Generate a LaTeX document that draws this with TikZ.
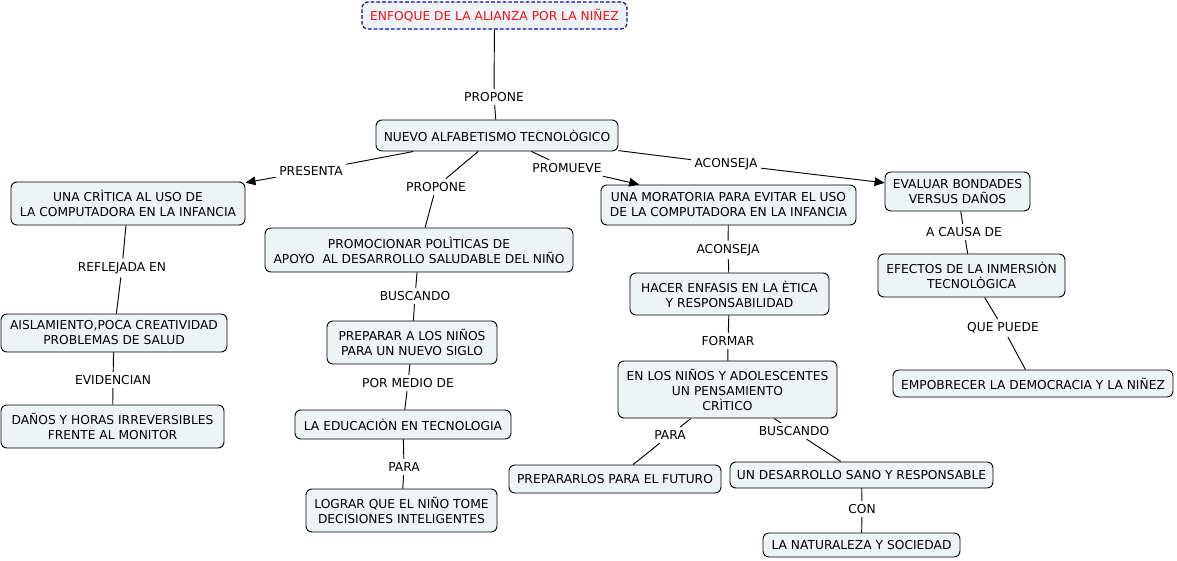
\documentclass[tikz,border=0pt]{standalone}
\usepackage{fontspec}
\setmainfont{DejaVu Sans}
\usetikzlibrary{arrows.meta}
\definecolor{boxfill}{HTML}{EEF3F6}
\definecolor{titlered}{HTML}{F0101A}
\definecolor{titleblue}{HTML}{0A0AB4}
\begin{document}
\begin{tikzpicture}[x=0.75pt,y=-0.75pt,
  every node/.style={font=\fontsize{9.2}{11.25}\selectfont, align=center, inner sep=0pt},
  box/.style={draw=black, line width=0.7pt, fill=boxfill, rounded corners=4.5pt},
  bx/.style 2 args={minimum width=#1*0.75pt, minimum height=#2*0.75pt},
  lbl/.style={inner sep=2.5pt},
  con/.style={draw=black, line width=0.7pt},
  arr/.style={con, -{Triangle[length=7.5pt,width=6.5pt]}}
]
\useasboundingbox (0,0) rectangle (1177,560);
\fill[white] (0,0) rectangle (1177,560);

% concept nodes
\node[box, draw=titleblue, line width=0.9pt, dash pattern=on 2.8pt off 1.5pt, text=titlered, bx={265}{27}] (title) at (494.5,15.5) {ENFOQUE DE LA ALIANZA POR LA NIÑEZ};
\node[box, bx={242}{31}] (n1) at (497,135.5) {NUEVO ALFABETISMO TECNOLÒGICO};
\node[box, bx={234}{43}] (critica) at (128,203.5) {UNA CRÌTICA AL USO DE\\LA COMPUTADORA EN LA INFANCIA};
\node[box, bx={308}{44}] (promo) at (419,250) {PROMOCIONAR POLÌTICAS DE\\APOYO\ \ AL DESARROLLO SALUDABLE DEL NIÑO};
\node[box, bx={255}{40}] (mora) at (728.5,205) {UNA MORATORIA PARA EVITAR EL USO\\DE LA COMPUTADORA EN LA INFANCIA};
\node[box, bx={145}{39}] (eval) at (957.5,191.5) {EVALUAR BONDADES\\VERSUS DAÑOS};
\node[box, bx={226}{38}] (aisl) at (114,333) {AISLAMIENTO,POCA CREATIVIDAD\\PROBLEMAS DE SALUD};
\node[box, bx={223}{43}] (danos) at (112.5,426.5) {DAÑOS Y HORAS IRREVERSIBLES\\FRENTE AL MONITOR};
\node[box, bx={170}{43}] (prep) at (412,342.5) {PREPARAR A LOS NIÑOS\\PARA UN NUEVO SIGLO};
\node[box, bx={216}{29}] (educ) at (403,424.5) {LA EDUCACIÒN EN TECNOLOGIA};
\node[box, bx={191}{43}] (lograr) at (401.5,510.5) {LOGRAR QUE EL NIÑO TOME\\DECISIONES INTELIGENTES};
\node[box, bx={199}{42}] (hacer) at (729.5,294) {HACER ENFASIS EN LA ÈTICA\\Y RESPONSABILIDAD};
\node[box, bx={219}{57}] (ninos) at (727.5,389.5) {EN LOS NIÑOS Y ADOLESCENTES\\UN PENSAMIENTO\\CRÌTICO};
\node[box, bx={212}{28}] (prepa) at (615,479) {PREPARARLOS PARA EL FUTURO};
\node[box, bx={263}{26}] (desa) at (861.5,475) {UN DESARROLLO SANO Y RESPONSABLE};
\node[box, bx={197}{24}] (natu) at (861.5,545) {LA NATURALEZA Y SOCIEDAD};
\node[box, bx={187}{43}] (efec) at (971.5,275.5) {EFECTOS DE LA INMERSIÒN\\TECNOLÒGICA};
\node[box, bx={280}{27}] (empo) at (1033,383.5) {EMPOBRECER LA DEMOCRACIA Y LA NIÑEZ};

% linking phrases
\node[lbl] (l1) at (494,97) {PROPONE};
\node[lbl] (l2) at (311,171) {PRESENTA};
\node[lbl] (l3) at (436,187) {PROPONE};
\node[lbl] (l4) at (567,168) {PROMUEVE};
\node[lbl] (l5) at (726,164) {ACONSEJA};
\node[lbl] (l6) at (122,268) {REFLEJADA EN};
\node[lbl] (l7) at (113,380) {EVIDENCIAN};
\node[lbl] (l8) at (415,296) {BUSCANDO};
\node[lbl] (l9) at (408,383) {POR MEDIO DE};
\node[lbl] (l10) at (404,467) {PARA};
\node[lbl] (l11) at (728,250) {ACONSEJA};
\node[lbl] (l12) at (728,341) {FORMAR};
\node[lbl] (l13) at (670,435) {PARA};
\node[lbl] (l14) at (794,431) {BUSCANDO};
\node[lbl] (l15) at (862,509) {CON};
\node[lbl] (l16) at (964,232) {A CAUSA DE};
\node[lbl] (l17) at (1003,328) {QUE PUEDE};

% connectors
\path[con] (title) -- (l1);  \path[con] (l1) -- (n1);
\path[con] (n1) -- (l2);     \path[arr] (l2) -- (critica);
\path[con] (n1) -- (l3);     \path[con] (l3) -- (promo);
\path[con] (n1) -- (l4);     \path[arr] (l4) -- (mora);
\path[con] (n1) -- (l5);     \path[arr] (l5) -- (eval);
\path[con] (critica) -- (l6); \path[con] (l6) -- (aisl);
\path[con] (aisl) -- (l7);   \path[con] (l7) -- (danos);
\path[con] (promo) -- (l8);  \path[con] (l8) -- (prep);
\path[con] (prep) -- (l9);   \path[con] (l9) -- (educ);
\path[con] (educ) -- (l10);  \path[con] (l10) -- (lograr);
\path[con] (mora) -- (l11);  \path[con] (l11) -- (hacer);
\path[con] (hacer) -- (l12); \path[con] (l12) -- (ninos);
\path[con] (ninos) -- (l13); \path[con] (l13) -- (prepa);
\path[con] (ninos) -- (l14); \path[con] (l14) -- (desa);
\path[con] (desa) -- (l15);  \path[con] (l15) -- (natu);
\path[con] (eval) -- (l16);  \path[con] (l16) -- (efec);
\path[con] (efec) -- (l17);  \path[con] (l17) -- (empo);
\end{tikzpicture}
\end{document}
